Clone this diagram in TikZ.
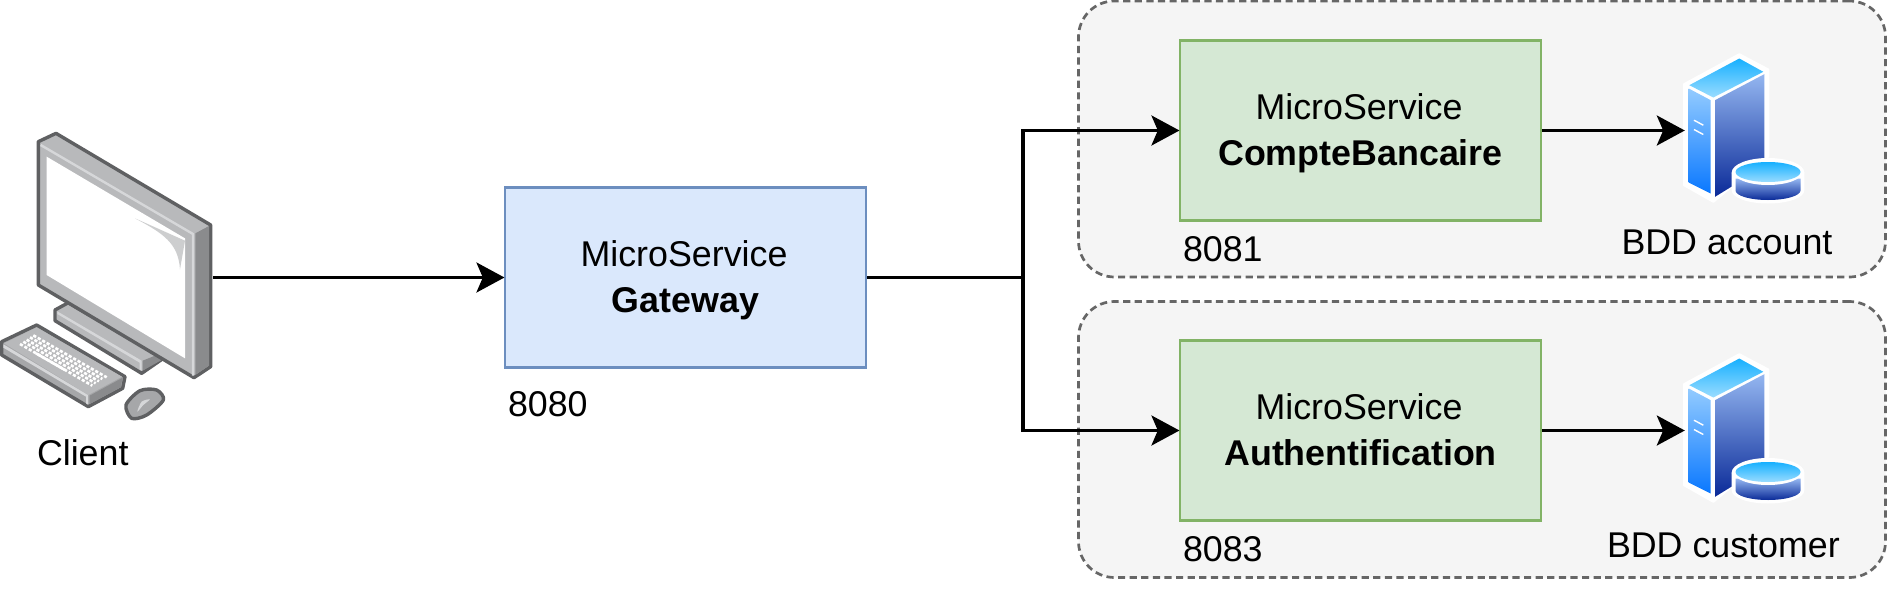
\documentclass[tikz,border=0pt]{standalone}
\usepackage{fontspec}
\setmainfont{Liberation Sans}
\usepackage[usenames,dvipsnames]{xcolor}
\usetikzlibrary{arrows.meta}
\definecolor{gatewayfill}{HTML}{DAE8FC}
\definecolor{gatewayline}{HTML}{6C8EBF}
\definecolor{servicefill}{HTML}{D5E8D4}
\definecolor{serviceline}{HTML}{82B366}
\definecolor{groupfill}{HTML}{F5F5F5}
\definecolor{groupline}{HTML}{666666}
\definecolor{pcline}{HTML}{5F6062}
\definecolor{pcdark}{HTML}{8A8B8D}
\definecolor{pcmid}{HTML}{A6A7A9}
\definecolor{pcface}{HTML}{B8B9BB}
\definecolor{pclight}{HTML}{D6D7D9}
\definecolor{dbfront}{HTML}{93CBFF}
\definecolor{dbfrontlow}{HTML}{0A78FF}
\definecolor{dbside}{HTML}{94B6F0}
\definecolor{dbsidelow}{HTML}{0A2A98}
\definecolor{dbtop}{HTML}{17B0FF}
\definecolor{dbtoplow}{HTML}{9ADCFF}
\newcommand{\boxtitle}{\rule{0pt}{16pt}MicroService\kern1.5pt}
\tikzstyle{big text}=[font=\fontsize{17.9}{21.7}\selectfont, inner sep=0pt, outer sep=0pt]
\tikzstyle{group box}=[draw=groupline, fill=groupfill, line width=1.35pt, dash pattern=on 3.6pt off 2.2pt, rounded corners=18pt, minimum width=403.5pt, minimum height=138pt]
\tikzstyle{gateway box}=[draw=gatewayline, fill=gatewayfill, line width=1.35pt, minimum width=180.5pt, minimum height=90pt, align=center, font=\fontsize{17.9}{23}\selectfont]
\tikzstyle{service box}=[draw=serviceline, fill=servicefill, line width=1.35pt, minimum width=180.5pt, minimum height=90pt, align=center, font=\fontsize{17.9}{23}\selectfont]
\tikzstyle{flow}=[line width=1.6pt, shorten >=-0.4pt, -{Stealth[length=14pt,width=15pt,inset=3.2pt]}]
\tikzstyle{flow plain}=[line width=1.6pt]
\tikzstyle{pc part}=[draw=pcline, line width=1.7pt, line join=round]
\tikzstyle{key row}=[white, line width=1.3pt, dash pattern=on 1.6pt off 0.95pt]
\tikzset{dbicon/.pic={
		\fill[white, draw=white, line width=1pt, line join=round] (55.3,-76.3) -- (84.3,-61) -- (84.3,26) -- (29.3,71.3) -- (0,54.7) -- (0,-46.3) -- cycle;
		\path[top color=dbfront, bottom color=dbfrontlow] (4.7,-42) -- (26.7,-30.3) -- (26.7,63) -- (4.7,52) -- cycle;
		\path[top color=dbside, bottom color=dbsidelow] (31,-30.3) -- (80.3,-56.3) -- (80.3,36) -- (31,66.3) -- cycle;
		\path[top color=dbtop, bottom color=dbtoplow] (55.3,-72) -- (79.3,-58.7) -- (29.3,-33) -- (5.3,-45.3) -- cycle;
		\draw[white, line width=0.7pt] (10,-10.3) -- (19.3,-5.3);
		\draw[white, line width=0.7pt] (10,-1) -- (19.3,4);
		\fill[white] (47.7,42) -- (47.7,60) arc[start angle=180, end angle=0, x radius=36.3, y radius=13] -- (120.3,42) -- cycle;
		\fill[white] (84,42) ellipse[x radius=36.3, y radius=14.5];
		\path[top color=dbside, bottom color=dbsidelow] (51.5,48) -- (51.5,60) arc[start angle=180, end angle=0, x radius=32.5, y radius=9.5] -- (116.5,48) -- cycle;
		\fill[white] (84,41.5) ellipse[x radius=34.5, y radius=13];
		\path[top color=dbtop, bottom color=dbtoplow] (84,41.5) ellipse[x radius=32.5, y radius=10];
}}

\begin{document}
\begin{tikzpicture}[x=0.5pt, y=-0.5pt]
		\useasboundingbox (0, 0) rectangle (1887, 594);
		\node(accountgroup)[group box] at (1482, 139) {};
		\node(customergroup)[group box] at (1482, 439.5) {};
		\node(gateway)[gateway box] at (685.5, 277.5) {\boxtitle\\\textbf{Gateway}};
		\node(compte)[service box] at (1360.5, 130.5) {\boxtitle\\\textbf{CompteBancaire}};
		\node(auth)[service box] at (1360.5, 430.5) {\boxtitle\\\textbf{Authentification}\rule[-3.8pt]{0pt}{3.8pt}};
		\node(clientname)[big text, anchor=base west] at (37, 465) {Client};
		\node(gatewayport)[big text, anchor=base west] at (508, 416.7) {8080};
		\node(compteport)[big text, anchor=base west] at (1183, 261) {8081};
		\node(authport)[big text, anchor=base west] at (1183, 561) {8083};
		\node(accountname)[big text, anchor=base west] at (1621.5, 254) {BDD account};
		\node(customername)[big text, anchor=base west] at (1607, 557.7) {BDD customer};
		\coordinate (screen) at (213, 277.5);
		\coordinate (fork) at (1023, 277.5);
		\coordinate (accountdb) at (1684, 130.5);
		\coordinate (customerdb) at (1684, 430.5);
		\pic at (accountdb) {dbicon};
		\pic at (customerdb) {dbicon};
		\draw[flow] (screen) -- (gateway.west);
		\draw[flow plain] (gateway.east) -- (fork);
		\draw[flow] (fork) |- (compte.west);
		\draw[flow] (fork) |- (auth.west);
		\draw[flow] (compte.east) -- (accountdb);
		\draw[flow] (auth.east) -- (customerdb);
		\begin{scope}[x=0.16667pt, y=-0.16667pt, shift={(0pt,-55pt)}]
		\draw[pc part, fill=pcface] (165,600) -- (205,578) -- (490,745) -- (425,790) -- (165,632) -- cycle;
		\fill[pcdark] (428,752) -- (470,735) -- (485,750) -- (428,782) -- cycle;
		\fill[pclight] (172,604) -- (425,752) -- (425,782) -- (419,778) -- (419,758) -- (172,612) -- cycle;
		\draw[pc part, fill=pcface] (115,95) -- (168,70) -- (632,345) -- (632,770) -- (582,803) -- (115,525) -- cycle;
		\fill[pcdark] (586,370) -- (627,348) -- (627,767) -- (586,795) -- cycle;
		\draw[pclight, line width=1.2pt] (122,105) -- (579,372) -- (579,797);
		\fill[white] (140,140) -- (555,385) -- (555,745) -- (140,495) -- cycle;
		\fill[pcface!70!white] (405,325) -- (555,392) -- (540,478) .. controls (535,400) and (490,370) .. (405,325) -- cycle;
		\draw[pc part, fill=pcmid] (5,695) -- (110,645) -- (375,800) -- (368,835) -- (265,890) -- (5,735) -- cycle;
		\fill[pcface] (12,700) -- (110,652) -- (366,800) -- (265,855) -- cycle;
		\fill[pclight] (10,703) -- (264,855) -- (264,884) -- (258,880) -- (258,860) -- (10,713) -- cycle;
		\fill[pcdark] (269,857) -- (368,803) -- (362,832) -- (269,882) -- cycle;
		\draw[key row] (60,702) -- (277,827);
		\draw[key row] (70,695) -- (287,820);
		\draw[key row] (80,689) -- (297,814);
		\draw[key row] (90,682) -- (307,807);
		\draw[key row] (100,676) -- (320,802);
		\draw[white, line width=1.3pt] (108,730) -- (195,780);
		\draw[pc part, fill=pcmid] plot[smooth cycle] coordinates {(378,885) (420,842) (470,840) (490,870) (440,915) (395,925)};
		\fill[pclight] plot[smooth cycle] coordinates {(412,905) (425,875) (450,868) (430,885)};
		\end{scope}
\end{tikzpicture}
\end{document}
